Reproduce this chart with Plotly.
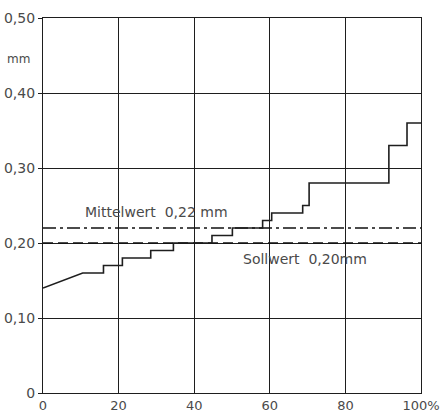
import plotly.graph_objects as go

# Data
step_x = [0, 10.5, 16, 21, 28.5, 34.5, 44.7, 50.1, 58.1, 60.5, 68.7, 70.4, 91.5, 96.3, 100]
step_y = [0.14, 0.16, 0.17, 0.18, 0.19, 0.20, 0.21, 0.22, 0.23, 0.24, 0.25, 0.28, 0.33, 0.36]
mittelwert = 0.22
sollwert = 0.20
x_ticks = [0, 20, 40, 60, 80, 100]
x_ticktext = ["0", "20", "40", "60", "80", "100%"]
y_ticks = [0, 0.1, 0.2, 0.3, 0.4, 0.5]
y_ticktext = ["0", "0,10", "0,20", "0,30", "0,40", "0,50"]

# Build path: first segment sloped, then steps
px = [step_x[0], step_x[1]]
py = [step_y[0], step_y[1]]
for i in range(1, len(step_y)):
    nx = step_x[i + 1]
    px.append(nx); py.append(step_y[i])
    if i + 1 < len(step_y):
        px.append(nx); py.append(step_y[i + 1])

ink = "#1e1e1e"
txt = "#4a4a4a"
font = "DejaVu Sans"

fig = go.Figure()
fig.add_trace(go.Scatter(x=[0, 100], y=[mittelwert, mittelwert], mode="lines",
                         line=dict(color="#111111", width=1.3, dash="13px,4px,3px,4px"),
                         hoverinfo="skip", showlegend=False))
fig.add_trace(go.Scatter(x=[0, 100], y=[sollwert, sollwert], mode="lines",
                         line=dict(color="#111111", width=1.3, dash="10px,5px"),
                         hoverinfo="skip", showlegend=False))
fig.add_trace(go.Scatter(x=px, y=py, mode="lines",
                         line=dict(color=ink, width=1.6),
                         showlegend=False))

fig.add_annotation(x=29.9, y=0.241, text="Mittelwert  0,22 mm", showarrow=False,
                   font=dict(family=font, size=14, color=txt))
fig.add_annotation(x=69.3, y=0.179, text="Sollwert  0,20mm", showarrow=False,
                   font=dict(family=font, size=14, color=txt))
fig.add_annotation(xref="paper", yref="paper", x=-0.065, y=0.915, text="mm",
                   showarrow=False, xanchor="center",
                   font=dict(family=font, size=12, color=txt))

fig.update_layout(
    width=441, height=412,
    margin=dict(l=43, r=20, t=18, b=19),
    paper_bgcolor="white", plot_bgcolor="white",
    font=dict(family=font, size=14, color=txt),
    xaxis=dict(range=[0, 100], tickvals=x_ticks, ticktext=x_ticktext,
               tickfont=dict(size=13),
               showgrid=True, gridcolor=ink, gridwidth=1,
               showline=True, linecolor=ink, linewidth=1.2, mirror=True,
               ticks="", zeroline=False, fixedrange=True, automargin=False),
    yaxis=dict(range=[0, 0.5], tickvals=y_ticks, ticktext=y_ticktext,
               showgrid=True, gridcolor=ink, gridwidth=1,
               showline=True, linecolor=ink, linewidth=1.2, mirror=True,
               ticks="outside", ticklen=4, tickcolor=ink,
               zeroline=False, fixedrange=True, automargin=False),
)

fig.write_html("out.html", config={"displayModeBar": False},
               post_script="document.body.style.margin='0';document.body.style.overflow='hidden';")
